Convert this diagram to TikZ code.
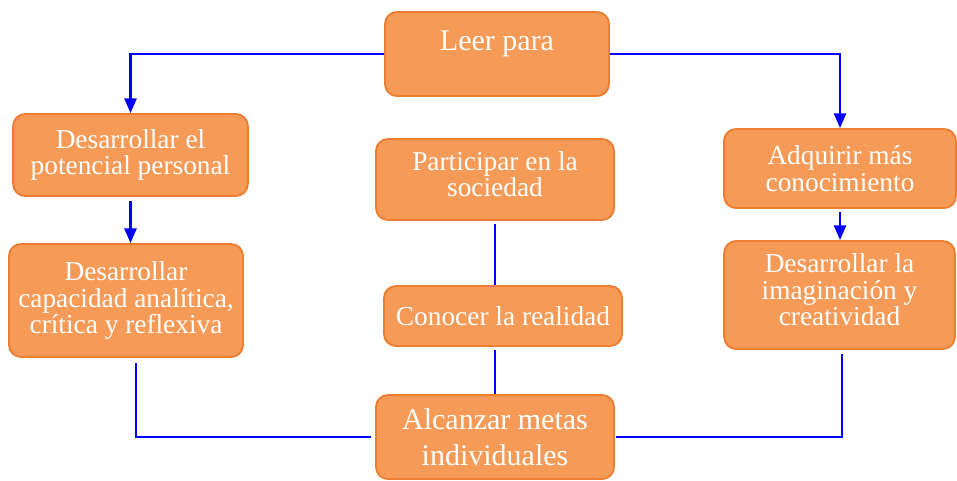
\documentclass[tikz,border=0pt]{standalone}
\usepackage{fontspec}
\setmainfont{Liberation Serif}
\usetikzlibrary{arrows.meta}

\definecolor{boxfill}{RGB}{245,154,87}
\definecolor{boxline}{RGB}{237,125,49}
\definecolor{linkblue}{RGB}{0,0,255}

\tikzset{every picture/.style={line width=0.75pt}}

\begin{document}
\begin{tikzpicture}[x=0.75pt,y=0.75pt,yscale=-1,xscale=1,
	box/.style={draw=boxline,fill=boxfill,line width=1.4pt,rounded corners=9pt,
		text=white,align=center,inner sep=2pt,font=\fontsize{20.5}{20}\selectfont},
	bigbox/.style={box,font=\fontsize{22.5}{27}\selectfont},
	link/.style={draw=linkblue,line width=1.9pt},
	arrowlink/.style={link,-{Triangle[length=11pt,width=9pt]}}]
	%set diagram size to 957x480
	\useasboundingbox (0,0) rectangle (957,480);
	
	% Text Node
	\node (leer) [bigbox,minimum width=168pt,minimum height=63pt,text depth=20pt] at (497,54) {Leer para};
	% Text Node
	\node (potencial) [box,minimum width=176pt,minimum height=61.5pt] at (130.5,155) {Desarrollar el\\potencial personal};
	% Text Node
	\node (analitica) [box,minimum width=175.5pt,minimum height=84.75pt] at (126,300.5) {Desarrollar\\capacidad analítica,\\crítica y reflexiva};
	% Text Node
	\node (sociedad) [box,minimum width=178.5pt,minimum height=60.75pt,text depth=8pt] at (495,179.5) {Participar en la\\sociedad};
	% Text Node
	\node (realidad) [box,minimum width=178.5pt,minimum height=45pt] at (503,316) {Conocer la realidad};
	% Text Node
	\node (metas) [bigbox,minimum width=178.5pt,minimum height=63pt] at (495,437) {Alcanzar metas\\individuales};
	% Text Node
	\node (conocimiento) [box,minimum width=174pt,minimum height=59.25pt] at (840,168.5) {Adquirir más\\conocimiento};
	% Text Node
	\node (imaginacion) [box,minimum width=173pt,minimum height=81pt,text depth=8pt] at (839.5,295) {Desarrollar la\\imaginación y\\creatividad};
	
	%Arrows from the top
	\draw [arrowlink] (leer.west) -| (potencial.north);
	\draw [arrowlink] (leer.east) -| (conocimiento.north);
	\draw [arrowlink,shorten <=3pt] (potencial.south) -- (potencial.south |- analitica.north);
	\draw [arrowlink,shorten <=2pt] (conocimiento.south) -- (conocimiento.south |- imaginacion.north);
	
	%Straight Lines in the middle
	\draw [link,shorten <=2pt] (sociedad.south) -- (sociedad.south |- realidad.north);
	\draw [link,shorten <=2pt] (realidad.south -| sociedad.south) -- (sociedad.south |- metas.north);
	
	%Straight Lines to the bottom
	\draw [link,shorten <=4pt] ([xshift=7.5pt]analitica.south) |- ([xshift=-3pt]metas.west);
	\draw [link,shorten <=3pt] ([xshift=2pt]imaginacion.south) |- ([xshift=1pt]metas.east);
\end{tikzpicture}
\end{document}
